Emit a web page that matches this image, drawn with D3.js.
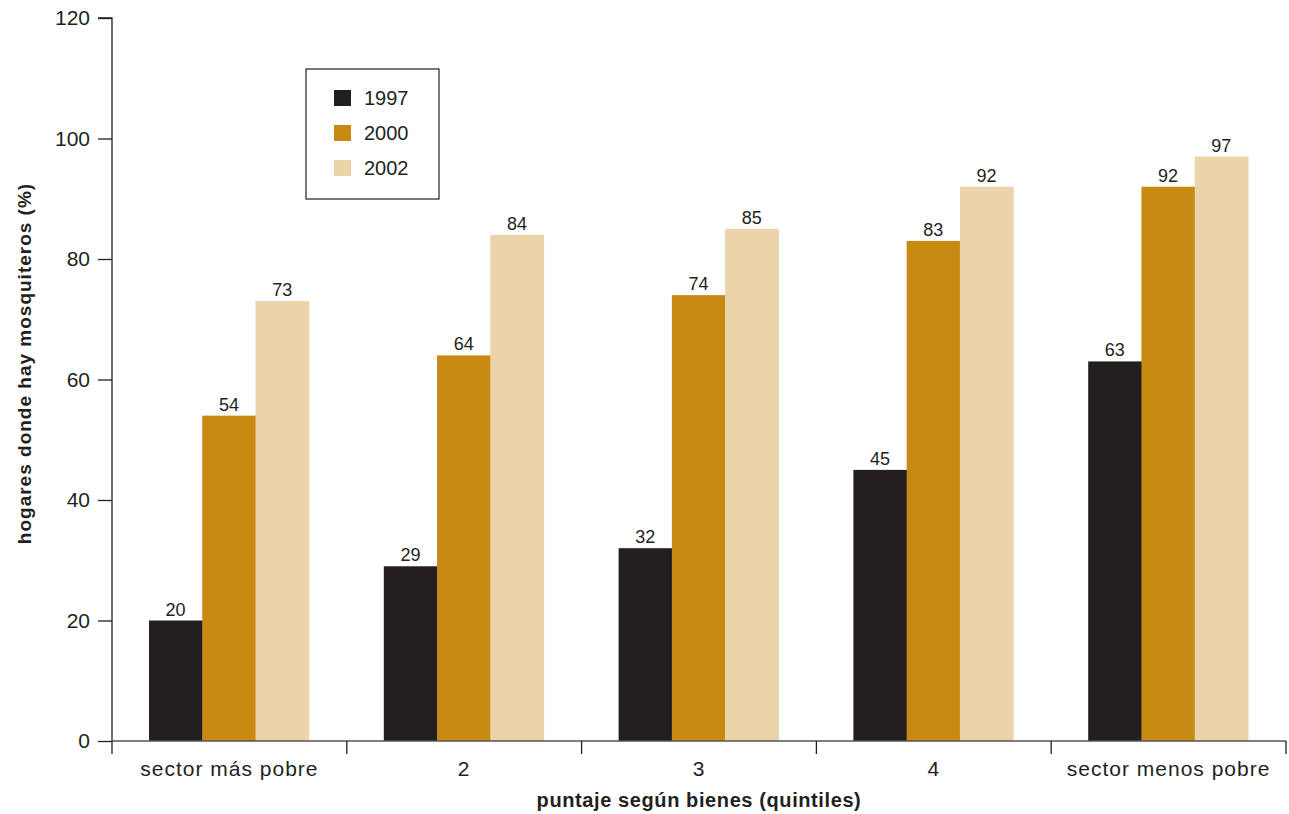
<!DOCTYPE html>
<html><head><meta charset="utf-8">
<script src="https://cdn.jsdelivr.net/npm/d3@7"></script>
<style>
html,body{margin:0;padding:0;background:#fff;}
text{font-family:"Liberation Sans","Helvetica",Arial,sans-serif;fill:#231f20;}
</style></head>
<body><svg id="chart" width="1289" height="814"></svg>
<script>
const categories = ["sector más pobre", "2", "3", "4", "sector menos pobre"];
const years = ["1997", "2000", "2002"];
const values1997 = [20, 29, 32, 45, 63];
const values2000 = [54, 64, 74, 83, 92];
const values2002 = [73, 84, 85, 92, 97];
const yTicks = [0, 20, 40, 60, 80, 100, 120];
const colors = ["#231f20", "#c88a12", "#ebd3aa"];
const series = [values1997, values2000, values2002];

const svg = d3.select("#chart");
const m = {left: 112, right: 3, top: 18, bottom: 73};
const W = 1289, H = 814;
const x0 = d3.scaleBand().domain(categories).range([m.left, W - m.right]).padding(0);
const inset = 37;
const x1 = d3.scaleBand().domain(years).range([inset, x0.bandwidth() - inset - 1]).padding(0);
const y = d3.scaleLinear().domain([0, 120]).range([H - m.bottom, m.top]);

// bars
const g = svg.append("g");
categories.forEach((c, ci) => {
  years.forEach((yr, si) => {
    const v = series[si][ci];
    const bx = x0(c) + x1(yr);
    g.append("rect")
      .attr("x", bx).attr("y", y(v))
      .attr("width", x1.bandwidth() + 0.5).attr("height", y(0) - y(v))
      .attr("fill", colors[si]);
    g.append("text")
      .attr("x", bx + x1.bandwidth() / 2).attr("y", y(v) - 5)
      .attr("text-anchor", "middle").attr("font-size", 18)
      .text(v);
  });
});

// y axis
const yAxis = svg.append("g").attr("transform", `translate(${m.left},0)`)
  .call(d3.axisLeft(y).tickValues(yTicks).tickSize(14).tickPadding(8));
yAxis.selectAll("text").attr("font-size", 21).style("font-family", '"Liberation Sans",Arial,sans-serif').attr("fill", "#231f20");
yAxis.selectAll("line,path").attr("stroke", "#231f20").attr("stroke-width", 1.3);
yAxis.select(".domain").attr("d", `M-14,${y(120)}H0V${y(0)}`);

// x axis
const xAxisG = svg.append("g").attr("transform", `translate(0,${y(0)})`);
xAxisG.append("line").attr("x1", m.left).attr("x2", W - m.right).attr("y1", 0).attr("y2", 0)
  .attr("stroke", "#555").attr("stroke-width", 1.3);
const edges = categories.map(c => x0(c)).concat([x0(categories[categories.length - 1]) + x0.bandwidth()]);
xAxisG.selectAll("line.t").data(edges).join("line").attr("class", "t")
  .attr("x1", d => d).attr("x2", d => d).attr("y1", 0).attr("y2", 13)
  .attr("stroke", "#231f20").attr("stroke-width", 1.3);
xAxisG.selectAll("text.c").data(categories).join("text").attr("class", "c")
  .attr("x", d => x0(d) + x0.bandwidth() / 2).attr("y", 35)
  .attr("text-anchor", "middle").attr("font-size", 21).attr("letter-spacing", 1).text(d => d);

// axis titles
svg.append("text").attr("x", (m.left + W - m.right) / 2).attr("y", 807)
  .attr("text-anchor", "middle").attr("font-size", 20).attr("font-weight", "bold")
  .attr("letter-spacing", 0.6)
  .text("puntaje según bienes (quintiles)");
svg.append("text").attr("transform", "translate(31,363.5) rotate(-90)")
  .attr("text-anchor", "middle").attr("font-size", 19).attr("font-weight", "bold")
  .attr("letter-spacing", 1)
  .text("hogares donde hay mosquiteros (%)");

// legend
const lg = svg.append("g").attr("transform", "translate(306,69)");
lg.append("rect").attr("width", 133).attr("height", 130).attr("fill", "#fff")
  .attr("stroke", "#231f20").attr("stroke-width", 1.2);
years.forEach((yr, i) => {
  const cy = 29 + i * 35;
  lg.append("rect").attr("x", 28).attr("y", cy - 8).attr("width", 17).attr("height", 16).attr("fill", colors[i]);
  lg.append("text").attr("x", 58).attr("y", cy + 7).attr("font-size", 20).text(yr);
});
</script></body></html>
